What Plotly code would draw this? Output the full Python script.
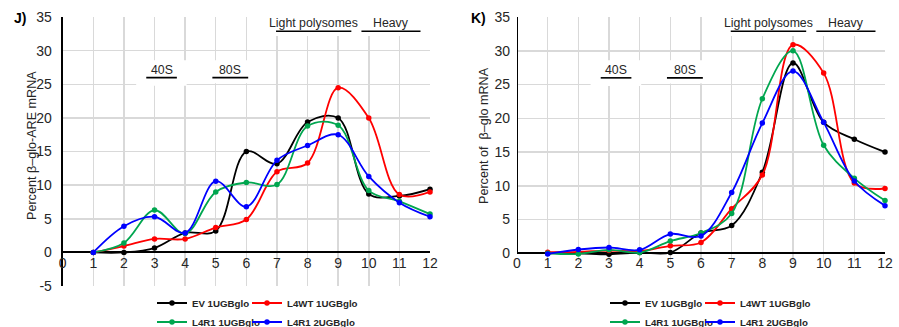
import plotly.graph_objects as go

# ---------------- data ----------------
fractions = list(range(1, 13))
x_tick_vals = list(range(0, 13))
j_y_ticks = list(range(-5, 36, 5))
j_y_ticktext = ["-5", "0", "5", "10", "15", "20", "25", "30", "35"]
k_y_ticks = list(range(0, 36, 5))
k_y_ticktext = ["0", "5", "10", "15", "20", "25", "30", "35"]

series_names = ["EV 1UGBglo", "L4WT 1UGBglo", "L4R1 1UGBglo", "L4R1 2UGBglo"]
series_colors = ["#000000", "#FF0000", "#00A64F", "#0000FF"]

# Panel J: Percent beta-glo-ARE mRNA
j_ev = [0, 0, 0.65, 2.9, 3.2, 15.0, 13.2, 19.4, 20.0, 8.7, 8.4, 9.4]
j_l4wt = [0, 0.95, 2.0, 2.0, 3.7, 4.9, 12.0, 13.3, 24.5, 20.0, 8.6, 9.0]
j_l4r1_1 = [0, 1.4, 6.3, 2.8, 9.0, 10.4, 10.1, 18.8, 18.9, 9.2, 7.6, 5.7]
j_l4r1_2 = [0, 3.9, 5.3, 2.9, 10.6, 6.8, 13.7, 15.9, 17.5, 11.3, 7.4, 5.3]

# Panel K: Percent of beta-glo mRNA
k_ev = [0, 0, -0.15, 0.1, 0.1, 3.0, 4.1, 12.0, 28.2, 19.4, 16.9, 15.0]
k_l4wt = [0.15, 0.2, 0.4, 0.3, 1.1, 1.6, 6.6, 11.6, 30.9, 26.7, 10.4, 9.6]
k_l4r1_1 = [0, -0.1, 0.5, 0.1, 1.8, 3.0, 5.9, 22.9, 30.0, 16.0, 11.1, 7.8]
k_l4r1_2 = [-0.1, 0.55, 0.85, 0.5, 2.85, 2.55, 9.0, 19.3, 27.0, 19.4, 10.7, 7.05]

j_series = [j_ev, j_l4wt, j_l4r1_1, j_l4r1_2]
k_series = [k_ev, k_l4wt, k_l4r1_1, k_l4r1_2]

# ---------------- styles ----------------
NARROW = "Liberation Sans Narrow, Arial Narrow, Liberation Sans, sans-serif"
ARIAL = "Liberation Sans, Arial, sans-serif"
GRID = "#d9d9d9"
TXT = "#262626"
W, H = 899, 327


def px_x(p):
    return p / W


def px_y(p):
    return 1 - p / H


fig = go.Figure()

# one legend per entry so the 2x2 legend grid matches exactly
legend_pos_j = [(152, 303), (247, 303), (152, 322), (247, 322)]
legend_pos_k = [(605, 303), (700, 303), (605, 322), (700, 322)]
legend_ids_j = ["legend", "legend2", "legend3", "legend4"]
legend_ids_k = ["legend5", "legend6", "legend7", "legend8"]

for name, color, vals, lg in zip(series_names, series_colors, j_series, legend_ids_j):
    fig.add_trace(go.Scatter(
        x=fractions, y=vals, name=name, mode="lines+markers",
        line=dict(color=color, width=1.8, shape="spline", smoothing=1),
        marker=dict(color=color, size=5.5),
        xaxis="x", yaxis="y", legend=lg, cliponaxis=False, hoverinfo="skip"))

for name, color, vals, lg in zip(series_names, series_colors, k_series, legend_ids_k):
    fig.add_trace(go.Scatter(
        x=fractions, y=vals, name=name, mode="lines+markers",
        line=dict(color=color, width=1.8, shape="spline", smoothing=1),
        marker=dict(color=color, size=5.5),
        xaxis="x2", yaxis="y2", legend=lg, cliponaxis=False, hoverinfo="skip"))

tickfont = dict(family=NARROW, size=14, color=TXT)

common_x = dict(range=[0, 12], tickmode="array", tickvals=x_tick_vals,
                ticktext=[str(v) for v in x_tick_vals],
                showgrid=True, gridcolor=GRID, gridwidth=1.5, zeroline=False,
                showline=False, ticks="", tickfont=tickfont, fixedrange=True)

fig.update_layout(
    width=W, height=H,
    margin=dict(l=0, r=0, t=0, b=0, autoexpand=False),
    paper_bgcolor="white", plot_bgcolor="white",
    xaxis=dict(domain=[px_x(62.7), px_x(430)], anchor="free", position=px_y(252.5), **common_x),
    xaxis2=dict(domain=[px_x(517), px_x(885)], anchor="free", position=px_y(253.3), **common_x),
    yaxis=dict(domain=[px_y(286), px_y(17)], range=[-5, 35.02], anchor="x",
               tickmode="array", tickvals=j_y_ticks, ticktext=j_y_ticktext,
               showgrid=True, gridcolor=GRID, gridwidth=1.5,
               zeroline=True, zerolinecolor="black", zerolinewidth=2,
               showline=True, linecolor="black", linewidth=2,
               ticks="", ticklabelstandoff=6, tickfont=tickfont, fixedrange=True),
    yaxis2=dict(domain=[px_y(262), px_y(17)], range=[-1.3, 35.02], anchor="x2",
                tickmode="array", tickvals=k_y_ticks, ticktext=k_y_ticktext,
                showgrid=True, gridcolor=GRID, gridwidth=1.5,
                zeroline=True, zerolinecolor="black", zerolinewidth=2,
                showline=False,
                ticks="", ticklabelstandoff=6, tickfont=tickfont, fixedrange=True),
    showlegend=True,
)

legend_font = dict(family=ARIAL, size=9.7, color=TXT, weight="bold")
legend_common = dict(orientation="h", xanchor="left", yanchor="middle", itemwidth=30,
                     font=legend_font, bgcolor="rgba(0,0,0,0)", borderwidth=0,
                     itemclick=False, itemdoubleclick=False)
legend_layout = {}
for lid, (lx, ly) in zip(legend_ids_j + legend_ids_k, legend_pos_j + legend_pos_k):
    legend_layout[lid] = dict(x=px_x(lx), y=px_y(ly), **legend_common)
fig.update_layout(**legend_layout)

shapes = []
annotations = []

for xr, yr in [("x", "y"), ("x2", "y2")]:
    # white boxes behind the region labels (hide gridlines)
    for (x0, x1, y0, y1) in [(6.5, 11.93, 32.2, 35.6), (2.4, 4.05, 24.8, 28.6), (4.05, 6.4, 25.15, 28.6)]:
        shapes.append(dict(type="rect", xref=xr, yref=yr, x0=x0, x1=x1, y0=y0, y1=y1,
                           fillcolor="white", line=dict(width=0), layer="between"))
    # underlines
    for (x0, x1, yv) in [(2.73, 3.73, 26.0), (4.89, 6.06, 26.0), (6.97, 9.43, 32.9), (9.76, 11.69, 32.9)]:
        shapes.append(dict(type="line", xref=xr, yref=yr, x0=x0, x1=x1, y0=yv, y1=yv,
                           line=dict(color="black", width=1.6), layer="above"))
    for (txt, xv, yv) in [("40S", 3.23, 27.2), ("80S", 5.47, 27.2),
                          ("Light polysomes", 8.2, 34.1), ("Heavy", 10.74, 34.1)]:
        annotations.append(dict(text=txt, xref=xr, yref=yr, x=xv, y=yv, showarrow=False,
                                xanchor="center", yanchor="middle",
                                font=dict(family=NARROW, size=12.3, color=TXT)))

# right panel y-axis line (from 0 to 35)
shapes.append(dict(type="line", xref="x2", yref="y2", x0=0, x1=0, y0=0, y1=35.02,
                   line=dict(color="black", width=2), layer="above"))

# panel letters
annotations.append(dict(text="<b>J)</b>", xref="paper", yref="paper", x=px_x(20), y=px_y(18),
                        showarrow=False, xanchor="center", yanchor="middle",
                        font=dict(family=ARIAL, size=14, color="black")))
annotations.append(dict(text="<b>K)</b>", xref="paper", yref="paper", x=px_x(478), y=px_y(18),
                        showarrow=False, xanchor="center", yanchor="middle",
                        font=dict(family=ARIAL, size=14, color="black")))
# axis titles
annotations.append(dict(text="Percent β–glo-ARE mRNA", xref="paper", yref="paper",
                        x=px_x(32), y=px_y(146), showarrow=False, textangle=-90,
                        xanchor="center", yanchor="middle",
                        font=dict(family=ARIAL, size=12.6, color=TXT)))
annotations.append(dict(text="Percent of \u00a0β–glo mRNA", xref="paper", yref="paper",
                        x=px_x(484), y=px_y(135), showarrow=False, textangle=-90,
                        xanchor="center", yanchor="middle",
                        font=dict(family=ARIAL, size=12.6, color=TXT)))

fig.update_layout(shapes=shapes, annotations=annotations)

fig.write_html("out.html", config={"displayModeBar": False, "staticPlot": True},
               post_script="document.body.style.margin='0';document.body.style.overflow='hidden';")
